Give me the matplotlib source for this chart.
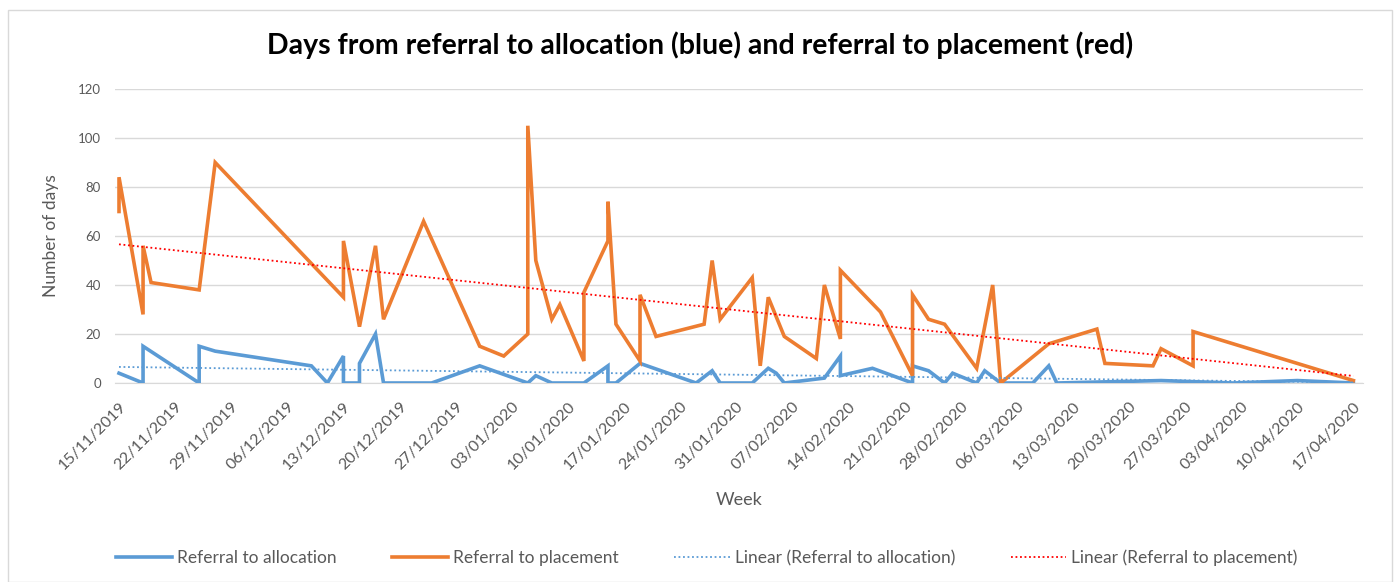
import matplotlib.pyplot as plt
import matplotlib.dates as mdates
import matplotlib.patches as patches
import numpy as np
import pandas as pd

plt.rcParams['font.family'] = ['Lato', 'DejaVu Sans']

# Referral to placement (orange)
place_dates = ['2019-11-15', '2019-11-15', '2019-11-18', '2019-11-18', '2019-11-19',
               '2019-11-25', '2019-11-27', '2019-12-13', '2019-12-13', '2019-12-15',
               '2019-12-17', '2019-12-18', '2019-12-23', '2019-12-30', '2020-01-02',
               '2020-01-05', '2020-01-05', '2020-01-06', '2020-01-08', '2020-01-09',
               '2020-01-12', '2020-01-12', '2020-01-15', '2020-01-15', '2020-01-16',
               '2020-01-19', '2020-01-19', '2020-01-21', '2020-01-27', '2020-01-28',
               '2020-01-29', '2020-02-02', '2020-02-03', '2020-02-04', '2020-02-06',
               '2020-02-10', '2020-02-11', '2020-02-13', '2020-02-13', '2020-02-18',
               '2020-02-22', '2020-02-22', '2020-02-24', '2020-02-26', '2020-03-01',
               '2020-03-03', '2020-03-04', '2020-03-10', '2020-03-16', '2020-03-17',
               '2020-03-23', '2020-03-24', '2020-03-28', '2020-03-28', '2020-04-17']
place_days = [70, 84, 28, 56, 41,
              38, 90, 35, 58, 23,
              56, 26, 66, 15, 11,
              20, 105, 50, 26, 32,
              9, 37, 58, 74, 24,
              9, 36, 19, 24, 50,
              26, 43, 7, 35, 19,
              10, 40, 18, 46, 29,
              3, 36, 26, 24, 6,
              40, 0, 16, 22, 8,
              7, 14, 7, 21, 1]

# Referral to allocation (blue)
alloc_dates = ['2019-11-15', '2019-11-18', '2019-11-18', '2019-11-25', '2019-11-25',
               '2019-11-27', '2019-12-09', '2019-12-11', '2019-12-13', '2019-12-13',
               '2019-12-15', '2019-12-15', '2019-12-17', '2019-12-18', '2019-12-24',
               '2019-12-30', '2020-01-05', '2020-01-06', '2020-01-08', '2020-01-12',
               '2020-01-15', '2020-01-15', '2020-01-16', '2020-01-19', '2020-01-26',
               '2020-01-28', '2020-01-29', '2020-02-02', '2020-02-04', '2020-02-05',
               '2020-02-06', '2020-02-11', '2020-02-13', '2020-02-13', '2020-02-17',
               '2020-02-22', '2020-02-22', '2020-02-24', '2020-02-26', '2020-02-27',
               '2020-03-01', '2020-03-02', '2020-03-04', '2020-03-08', '2020-03-10',
               '2020-03-11', '2020-03-24', '2020-04-02', '2020-04-10', '2020-04-17']
alloc_days = [4, 0, 15, 0, 15,
              13, 7, 0, 11, 0,
              0, 8, 20, 0, 0,
              7, 0, 3, 0, 0,
              7, 0, 0, 8, 0,
              5, 0, 0, 6, 4,
              0, 2, 11, 3, 6,
              0, 7, 5, 0, 4,
              0, 5, 0, 0, 7,
              0, 1, 0, 1, 0]

start = pd.Timestamp('2019-11-15')
end = pd.Timestamp('2020-04-17')
xp = pd.to_datetime(place_dates)
xa = pd.to_datetime(alloc_dates)

# linear trendlines like Excel, fitted on the dates
dp = (xp - start).days.values.astype(float)
da = (xa - start).days.values.astype(float)
cp = np.polyfit(dp, place_days, 1)
ca = np.polyfit(da, alloc_days, 1)
tdays = np.array([0.0, (end - start).days])
tx = start + pd.to_timedelta(tdays, unit='D')

fig = plt.figure(figsize=(14, 5.82), dpi=100)
ax = fig.add_axes([115 / 1400, 1 - 383 / 582, (1363 - 115) / 1400, (383 - 89) / 582])

ax.plot(xa, alloc_days, color='#5B9BD5', lw=2.6, solid_joinstyle='miter',
        label='Referral to allocation', zorder=3)
ax.plot(xp, place_days, color='#ED7D31', lw=2.6, solid_joinstyle='miter',
        label='Referral to placement', zorder=3)
ax.plot(tx, np.polyval(ca, tdays), color='#5B9BD5', lw=1.3, ls=(0, (1, 1.5)),
        label='Linear (Referral to allocation)', zorder=4)
ax.plot(tx, np.polyval(cp, tdays), color='#FF0000', lw=1.3, ls=(0, (1, 1.5)),
        label='Linear (Referral to placement)', zorder=4)

ax.set_ylim(0, 120)
ax.set_yticks(range(0, 121, 20))
ax.set_xlim(start - pd.Timedelta(days=0.5), end + pd.Timedelta(days=1.2))
ax.set_xticks(pd.date_range(start, end, freq='7D'))
ax.xaxis.set_major_formatter(mdates.DateFormatter('%d/%m/%Y'))
for lbl in ax.get_xticklabels():
    lbl.set_rotation(45)
    lbl.set_ha('right')
    lbl.set_rotation_mode('anchor')

ax.grid(axis='y', color='#D9D9D9', lw=1)
ax.set_axisbelow(True)
for s in ['top', 'right', 'left']:
    ax.spines[s].set_visible(False)
ax.spines['bottom'].set_color('#D9D9D9')
ax.tick_params(length=0, labelcolor='#595959')
ax.tick_params(axis='x', labelsize=11.5, pad=12)
ax.tick_params(axis='y', labelsize=9.5, pad=10)

ax.set_ylabel('Number of days', fontsize=12.5, color='#595959', labelpad=14)
ax.set_xlabel('Week', fontsize=13, color='#595959', labelpad=14)

fig.text(0.5, 1 - 45 / 582, 'Days from referral to allocation (blue) and referral to placement (red)',
         ha='center', va='center', fontsize=20.5, fontweight='bold', color='#000000')

fig.legend(loc='center', bbox_to_anchor=(0.505, 1 - 558 / 582), ncol=4, frameon=False,
           fontsize=12.5, handlelength=3.2, handletextpad=0.3, columnspacing=3.2,
           labelcolor='#595959')

fig.patches.append(patches.Rectangle((8 / 1400, 0), 1384 / 1400, 1 - 10 / 582,
                                     transform=fig.transFigure, fill=False,
                                     edgecolor='#D9D9D9', lw=1))

fig.savefig('out.png', dpi=100)
